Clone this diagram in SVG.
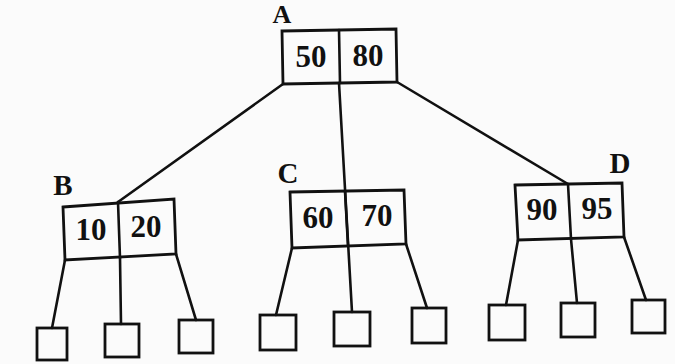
<svg xmlns="http://www.w3.org/2000/svg" width="675" height="364" viewBox="0 0 675 364">
<style>
.box{fill:none;stroke:#111;stroke-width:2.8;stroke-linejoin:miter}
.ln{fill:none;stroke:#111;stroke-width:2.6;stroke-linecap:round}
.key{font-family:"Liberation Serif",serif;font-size:31px;font-weight:bold;fill:#111;text-anchor:middle}
.lbl{font-family:"Liberation Serif",serif;font-size:29px;font-weight:bold;fill:#111;text-anchor:middle}
</style>
<rect width="675" height="364" fill="#fbfbfb"/>
<g id="connectors">
<line class="ln" x1="283" y1="84" x2="118" y2="202"/>
<line class="ln" x1="339" y1="83" x2="352" y2="312"/>
<line class="ln" x1="397" y1="82" x2="568" y2="184"/>
<line class="ln" x1="65" y1="260" x2="52" y2="328"/>
<line class="ln" x1="120" y1="258" x2="121" y2="324"/>
<line class="ln" x1="176" y1="254" x2="196" y2="320"/>
<line class="ln" x1="292" y1="248" x2="276" y2="315"/>
<line class="ln" x1="406" y1="244" x2="427" y2="308"/>
<line class="ln" x1="518" y1="240" x2="506" y2="305"/>
<line class="ln" x1="571" y1="239" x2="577" y2="303"/>
<line class="ln" x1="624" y1="237" x2="646" y2="300"/>
</g>
<g id="A">
<polygon class="box" points="282,31 396,29 397,82 283,84"/>
<line class="ln" x1="339" y1="30" x2="340" y2="83"/>
<text class="key" x="311" y="67">50</text>
<text class="key" x="368" y="66">80</text>
<text class="lbl" x="282" y="23" style="font-size:26px">A</text>
</g>
<g id="B">
<polygon class="box" points="63,207 174,199 176,254 65,260"/>
<line class="ln" x1="118" y1="202" x2="120" y2="258"/>
<text class="key" x="91" y="240">10</text>
<text class="key" x="146" y="237">20</text>
<text class="lbl" x="63" y="195">B</text>
</g>
<g id="C">
<polygon class="box" points="290,192 404,190 406,244 292,248"/>
<line class="ln" x1="345" y1="191" x2="348" y2="246"/>
<text class="key" x="318" y="228">60</text>
<text class="key" x="377" y="226">70</text>
<text class="lbl" x="288" y="183">C</text>
</g>
<g id="D">
<polygon class="box" points="515,185 622,183 624,237 518,240"/>
<line class="ln" x1="568" y1="184" x2="571" y2="239"/>
<text class="key" x="542" y="220">90</text>
<text class="key" x="597" y="219">95</text>
<text class="lbl" x="620" y="173">D</text>
</g>
<g id="B1"><rect class="box" x="37" y="328" width="30" height="32"/></g>
<g id="B2"><rect class="box" x="105" y="324" width="34" height="33"/></g>
<g id="B3"><rect class="box" x="179" y="320" width="34" height="33"/></g>
<g id="C1"><rect class="box" x="260" y="315" width="36" height="35"/></g>
<g id="C2"><rect class="box" x="334" y="312" width="36" height="34"/></g>
<g id="C3"><rect class="box" x="412" y="308" width="34" height="35"/></g>
<g id="D1"><rect class="box" x="489" y="305" width="36" height="35"/></g>
<g id="D2"><rect class="box" x="561" y="303" width="34" height="34"/></g>
<g id="D3"><rect class="box" x="632" y="300" width="33" height="33"/></g>
</svg>
